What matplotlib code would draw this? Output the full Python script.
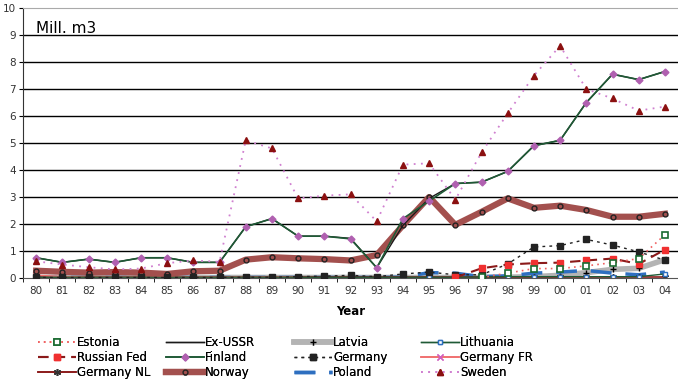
import matplotlib.pyplot as plt
import numpy as np

nan = np.nan
years = ['80', '81', '82', '83', '84', '85', '86', '87', '88', '89', '90', '91',
         '92', '93', '94', '95', '96', '97', '98', '99', '00', '01', '02', '03', '04']

# Mill. m3
estonia = [nan] * 17 + [0.02, 0.18, 0.35, 0.35, 0.45, 0.57, 0.72, 1.6]
ex_ussr = [0.75, 0.58, 0.7, 0.58, 0.75, 0.75, 0.58, 0.58, 1.9, 2.2, 1.55, 1.55, 1.47, 0.38, 1.95, 2.95,
           3.5, 3.55, 3.95, 4.9, 5.1, 6.5, 7.55, 7.35, 7.65]
latvia = [0.02, 0.02, 0.02, 0.02, 0.02, 0.02, 0.02, 0.02, 0.02, 0.02, 0.02, 0.02, 0.02, 0.02, 0.02, 0.02,
          0.02, 0.02, 0.03, 0.05, 0.1, 0.2, 0.32, 0.36, 0.68]
lithuania = [0.03, 0.03, 0.03, 0.03, 0.03, 0.03, 0.03, 0.03, 0.03, 0.03, 0.03, 0.03, 0.03, 0.03, 0.03, 0.03,
             0.03, 0.04, 0.05, 0.05, 0.05, 0.05, 0.05, 0.05, 0.15]
russian_fed = [nan] * 16 + [0.02, 0.36, 0.5, 0.55, 0.57, 0.65, 0.72, 0.52, 1.05]
finland = [0.75, 0.58, 0.7, 0.58, 0.75, 0.75, 0.58, 0.58, 1.9, 2.2, 1.55, 1.55, 1.45, 0.38, 2.2, 2.85,
           3.5, 3.55, 3.95, 4.9, 5.1, 6.5, 7.55, 7.35, 7.65]
germany = [0.02, 0.02, 0.02, 0.02, 0.02, 0.02, 0.02, 0.02, 0.03, 0.03, 0.05, 0.07, 0.1, 0.05, 0.15, 0.22,
           0.12, 0.12, 0.52, 1.15, 1.2, 1.43, 1.22, 0.97, 0.66]
germany_fr = [0.1, 0.05, 0.03, 0.03, 0.03, 0.03, 0.03, 0.03, 0.03, 0.03, 0.03, nan, nan, nan, nan, nan,
              nan, nan, nan, nan, nan, nan, nan, nan, nan]
germany_nl = [0.02] * 25
norway = [0.27, 0.23, 0.2, 0.22, 0.2, 0.15, 0.25, 0.27, 0.68, 0.77, 0.73, 0.7, 0.65, 0.85, 1.95, 3.0,
          1.97, 2.45, 2.95, 2.6, 2.68, 2.52, 2.27, 2.27, 2.38]
poland = [0.02, 0.02, 0.02, 0.02, 0.02, 0.02, 0.02, 0.02, 0.02, 0.02, 0.02, 0.02, 0.02, 0.02, 0.03, 0.2,
          0.18, 0.05, 0.08, 0.18, 0.22, 0.28, 0.18, 0.12, 0.22]
sweden = [0.62, 0.5, 0.4, 0.32, 0.35, 0.55, 0.65, 0.6, 5.1, 4.8, 2.95, 3.05, 3.1, 2.1, 4.2, 4.25,
          2.9, 4.65, 6.1, 7.5, 8.6, 7.0, 6.65, 6.2, 6.35]

x = np.arange(len(years))

fig = plt.figure(figsize=(6.78, 3.84), dpi=100)
ax = fig.add_axes([0.034, 0.276, 0.966, 0.703])

ax.plot(x, norway, color='#a3504e', lw=4.5, marker='o', ms=3.5, mfc='none', mec='#222222', mew=1,
        label='Norway', zorder=3)
ax.plot(x, latvia, color='#b4b4b4', lw=4, marker='+', ms=5, mec='black', label='Latvia', zorder=2)
ax.plot(x, poland, color='#2e6fc0', lw=2.5, dashes=(6, 4), label='Poland', zorder=2)
ax.plot(x, germany_nl, color='#8b1a1a', lw=1.2, marker=(6, 2, 0), ms=5, mec='#333333', label='Germany NL', zorder=2)
ax.plot(x, germany_fr, color='#f07070', lw=1.2, marker='x', ms=4, mec='#d060c0', label='Germany FR', zorder=2)
ax.plot(x, lithuania, color='#1f5a36', lw=1, marker='s', ms=3, mfc='white', mec='#2e6fc0',
        label='Lithuania', zorder=2)
ax.plot(x, germany, color='#222222', lw=1, ls=(0, (2, 3)), marker='s', ms=4, label='Germany', zorder=4)
ax.plot(x, russian_fed, color='#8b1a1a', lw=1.5, dashes=(5, 3), marker='s', ms=4, mfc='#f03030',
        mec='#f03030', label='Russian Fed', zorder=4)
ax.plot(x, estonia, color='#f06060', lw=1.2, ls=(0, (1, 2.5)), marker='s', ms=4, mfc='white',
        mec='#1a6a30', mew=1.2, label='Estonia', zorder=4)
ax.plot(x, ex_ussr, color='#1a1a1a', lw=1, label='Ex-USSR', zorder=4)
ax.plot(x, finland, color='#1f5a36', lw=1.2, marker='D', ms=3.5, mfc='#b060b0', mec='#b060b0',
        label='Finland', zorder=5)
ax.plot(x, sweden, color='#d080d0', lw=1.3, ls=(0, (1, 3)), marker='^', ms=5, mfc='#8b1010',
        mec='#8b1010', label='Sweden', zorder=5)

ax.set_xlim(-0.5, 24.5)
ax.set_ylim(0, 10)
ax.set_xticks(x)
ax.set_xticklabels(years, fontsize=7.5, color='#333333')
ax.set_xticks(np.arange(-0.5, 25, 1), minor=True)
ax.tick_params(axis='x', which='major', length=0, pad=6)
ax.tick_params(axis='x', which='minor', length=3, direction='out')
ax.set_yticks(range(11))
ax.set_yticklabels([str(v) for v in range(11)], fontsize=7.5, color='#333333')
ax.tick_params(axis='y', length=3, direction='out', pad=2)

for v in range(1, 10):
    ax.axhline(v, color='black', lw=1, zorder=1)
ax.spines['top'].set_color('#aaaaaa')
ax.spines['right'].set_visible(False)
ax.spines['left'].set_color('#333333')
ax.spines['bottom'].set_color('#555555')

ax.text(0.02, 0.925, 'Mill. m3', transform=ax.transAxes, fontsize=11, va='center')
ax.set_xlabel('Year', fontsize=8.5, fontweight='bold', labelpad=6)

# legend: four columns placed like the original
handles, labels = ax.get_legend_handles_labels()
lookup = dict(zip(labels, handles))
columns = [['Estonia', 'Russian Fed', 'Germany NL'],
           ['Ex-USSR', 'Finland', 'Norway'],
           ['Latvia', 'Germany', 'Poland'],
           ['Lithuania', 'Germany FR', 'Sweden']]
col_x = [36, 164, 292, 419]
for cx, names in zip(col_x, columns):
    leg = fig.legend([lookup[k] for k in names], names, loc='upper left',
                     bbox_to_anchor=(cx / 678, 1 - 334 / 384), frameon=False, fontsize=8.5,
                     handlelength=3.2, handletextpad=0.1, labelspacing=0.15,
                     borderaxespad=0, borderpad=0.2)
    fig.add_artist(leg)

fig.savefig('out.png', dpi=100)
